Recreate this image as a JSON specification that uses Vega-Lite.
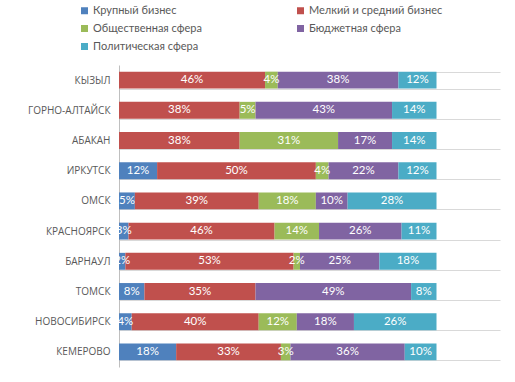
{
  "$schema": "https://vega.github.io/schema/vega-lite/v6.json",
  "autosize": {"type": "none"},
  "width": 381,
  "height": 302,
  "padding": {"left": 119, "top": 65, "right": 15, "bottom": 15},
  "background": "white",
  "config": {
    "view": {"stroke": null},
    "font": "Lato"
  },
  "data": {
    "values": [
      {"city": "КЫЗЫЛ", "cat": "Крупный бизнес", "k": 1, "v": 0},
      {"city": "КЫЗЫЛ", "cat": "Мелкий и средний бизнес", "k": 2, "v": 0.46},
      {"city": "КЫЗЫЛ", "cat": "Общественная сфера", "k": 3, "v": 0.04},
      {"city": "КЫЗЫЛ", "cat": "Бюджетная сфера", "k": 4, "v": 0.38},
      {"city": "КЫЗЫЛ", "cat": "Политическая сфера", "k": 5, "v": 0.12},
      {"city": "ГОРНО-АЛТАЙСК", "cat": "Крупный бизнес", "k": 1, "v": 0},
      {"city": "ГОРНО-АЛТАЙСК", "cat": "Мелкий и средний бизнес", "k": 2, "v": 0.38},
      {"city": "ГОРНО-АЛТАЙСК", "cat": "Общественная сфера", "k": 3, "v": 0.05},
      {"city": "ГОРНО-АЛТАЙСК", "cat": "Бюджетная сфера", "k": 4, "v": 0.43},
      {"city": "ГОРНО-АЛТАЙСК", "cat": "Политическая сфера", "k": 5, "v": 0.14},
      {"city": "АБАКАН", "cat": "Крупный бизнес", "k": 1, "v": 0},
      {"city": "АБАКАН", "cat": "Мелкий и средний бизнес", "k": 2, "v": 0.38},
      {"city": "АБАКАН", "cat": "Общественная сфера", "k": 3, "v": 0.31},
      {"city": "АБАКАН", "cat": "Бюджетная сфера", "k": 4, "v": 0.17},
      {"city": "АБАКАН", "cat": "Политическая сфера", "k": 5, "v": 0.14},
      {"city": "ИРКУТСК", "cat": "Крупный бизнес", "k": 1, "v": 0.12},
      {"city": "ИРКУТСК", "cat": "Мелкий и средний бизнес", "k": 2, "v": 0.50},
      {"city": "ИРКУТСК", "cat": "Общественная сфера", "k": 3, "v": 0.04},
      {"city": "ИРКУТСК", "cat": "Бюджетная сфера", "k": 4, "v": 0.22},
      {"city": "ИРКУТСК", "cat": "Политическая сфера", "k": 5, "v": 0.12},
      {"city": "ОМСК", "cat": "Крупный бизнес", "k": 1, "v": 0.05},
      {"city": "ОМСК", "cat": "Мелкий и средний бизнес", "k": 2, "v": 0.39},
      {"city": "ОМСК", "cat": "Общественная сфера", "k": 3, "v": 0.18},
      {"city": "ОМСК", "cat": "Бюджетная сфера", "k": 4, "v": 0.10},
      {"city": "ОМСК", "cat": "Политическая сфера", "k": 5, "v": 0.28},
      {"city": "КРАСНОЯРСК", "cat": "Крупный бизнес", "k": 1, "v": 0.03},
      {"city": "КРАСНОЯРСК", "cat": "Мелкий и средний бизнес", "k": 2, "v": 0.46},
      {"city": "КРАСНОЯРСК", "cat": "Общественная сфера", "k": 3, "v": 0.14},
      {"city": "КРАСНОЯРСК", "cat": "Бюджетная сфера", "k": 4, "v": 0.26},
      {"city": "КРАСНОЯРСК", "cat": "Политическая сфера", "k": 5, "v": 0.11},
      {"city": "БАРНАУЛ", "cat": "Крупный бизнес", "k": 1, "v": 0.02},
      {"city": "БАРНАУЛ", "cat": "Мелкий и средний бизнес", "k": 2, "v": 0.53},
      {"city": "БАРНАУЛ", "cat": "Общественная сфера", "k": 3, "v": 0.02},
      {"city": "БАРНАУЛ", "cat": "Бюджетная сфера", "k": 4, "v": 0.25},
      {"city": "БАРНАУЛ", "cat": "Политическая сфера", "k": 5, "v": 0.18},
      {"city": "ТОМСК", "cat": "Крупный бизнес", "k": 1, "v": 0.08},
      {"city": "ТОМСК", "cat": "Мелкий и средний бизнес", "k": 2, "v": 0.35},
      {"city": "ТОМСК", "cat": "Общественная сфера", "k": 3, "v": 0},
      {"city": "ТОМСК", "cat": "Бюджетная сфера", "k": 4, "v": 0.49},
      {"city": "ТОМСК", "cat": "Политическая сфера", "k": 5, "v": 0.08},
      {"city": "НОВОСИБИРСК", "cat": "Крупный бизнес", "k": 1, "v": 0.04},
      {"city": "НОВОСИБИРСК", "cat": "Мелкий и средний бизнес", "k": 2, "v": 0.40},
      {"city": "НОВОСИБИРСК", "cat": "Общественная сфера", "k": 3, "v": 0.12},
      {"city": "НОВОСИБИРСК", "cat": "Бюджетная сфера", "k": 4, "v": 0.18},
      {"city": "НОВОСИБИРСК", "cat": "Политическая сфера", "k": 5, "v": 0.26},
      {"city": "КЕМЕРОВО", "cat": "Крупный бизнес", "k": 1, "v": 0.18},
      {"city": "КЕМЕРОВО", "cat": "Мелкий и средний бизнес", "k": 2, "v": 0.33},
      {"city": "КЕМЕРОВО", "cat": "Общественная сфера", "k": 3, "v": 0.03},
      {"city": "КЕМЕРОВО", "cat": "Бюджетная сфера", "k": 4, "v": 0.36},
      {"city": "КЕМЕРОВО", "cat": "Политическая сфера", "k": 5, "v": 0.10}
    ]
  },
  "transform": [
    {"stack": "v", "groupby": ["city"], "sort": [{"field": "k", "order": "ascending"}], "as": ["v0", "v1"]}
  ],
  "encoding": {
    "y": {
      "field": "city",
      "type": "nominal",
      "sort": ["КЫЗЫЛ", "ГОРНО-АЛТАЙСК", "АБАКАН", "ИРКУТСК", "ОМСК", "КРАСНОЯРСК", "БАРНАУЛ", "ТОМСК", "НОВОСИБИРСК", "КЕМЕРОВО"],
      "scale": {"paddingInner": 0.44, "paddingOuter": 0.22},
      "axis": {
        "title": null,
        "ticks": false,
        "grid": true,
        "tickBand": "extent",
        "gridColor": "#d9d9d9",
        "domainColor": "#bfbfbf",
        "labelColor": "#595959",
        "labelFontSize": 10,
        "labelFontWeight": "normal",
        "labelPadding": 9,
        "labelFont": "Open Sans"
      }
    }
  },
  "layer": [
    {
      "mark": {"type": "bar"},
      "encoding": {
        "x": {"field": "v0", "type": "quantitative", "scale": {"domain": [0, 1.2], "nice": false}, "axis": null},
        "x2": {"field": "v1"},
        "color": {
          "field": "cat",
          "type": "nominal",
          "scale": {
            "domain": ["Крупный бизнес", "Мелкий и средний бизнес", "Общественная сфера", "Бюджетная сфера", "Политическая сфера"],
            "range": ["#4f81bd", "#c0504d", "#9bbb59", "#8064a2", "#4bacc6"]
          },
          "legend": {
            "title": null,
            "orient": "none",
            "legendX": -40,
            "legendY": -60,
            "direction": "horizontal",
            "columns": 2,
            "columnPadding": 93,
            "rowPadding": 6,
            "symbolType": "square",
            "symbolSize": 49,
            "symbolStrokeWidth": 0,
            "labelFontSize": 11,
            "labelColor": "#595959",
            "labelFont": "Lato",
            "labelOffset": 3
          }
        }
      }
    },
    {
      "transform": [
        {"filter": "datum.v > 0"},
        {"fold": ["v0", "v1"], "as": ["edge", "pos"]},
        {"aggregate": [{"op": "mean", "field": "pos", "as": "mid"}], "groupby": ["city", "cat", "v"]}
      ],
      "mark": {"type": "text", "color": "white", "fontSize": 11.5, "font": "Lato"},
      "encoding": {
        "x": {"field": "mid", "type": "quantitative"},
        "text": {"field": "v", "type": "quantitative", "format": ".0%"}
      }
    }
  ]
}
